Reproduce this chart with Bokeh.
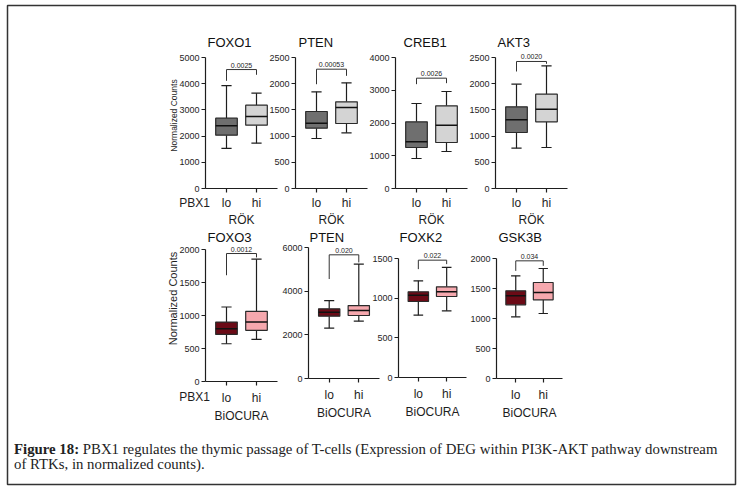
from bokeh.plotting import figure
from bokeh.models import Range1d, FixedTicker, Label, Div
from bokeh.layouts import row, column
from bokeh.embed import file_html
from bokeh.resources import INLINE

# ---------------- data ----------------
GENES = ["FOXO1", "PTEN", "CREB1", "AKT3", "FOXO3", "PTEN", "FOXK2", "GSK3B"]
GROUPS = ["lo", "hi"]
SOURCES = ["RÖK", "RÖK", "RÖK", "RÖK", "BiOCURA", "BiOCURA", "BiOCURA", "BiOCURA"]
Y_MAX = [5000, 2500, 4000, 2500, 2000, 6000, 1500, 2000]
Y_STEP = [1000, 500, 1000, 500, 500, 2000, 500, 500]
W_MIN = [[1530, 1730], [954, 1062], [916, 1130], [770, 782],
         [572, 638], [2308, 2627], [786, 840], [1028, 1083]]
Q1 = [[2036, 2417], [1151, 1240], [1252, 1405], [1069, 1272],
      [714, 775], [2855, 2885], [958, 1021], [1228, 1311]]
MED = [[2392, 2748], [1247, 1546], [1425, 1934], [1310, 1514],
       [800, 901], [3037, 3113], [1038, 1080], [1378, 1433]]
Q3 = [[2684, 3181], [1469, 1654], [2036, 2524], [1558, 1800],
      [901, 1063], [3190, 3341], [1080, 1143], [1461, 1600]]
W_MAX = [[3930, 3639], [1845, 2017], [2595, 2962], [1991, 2341],
         [1129, 1853], [3569, 5240], [1218, 1387], [1711, 1833]]
P_TEXT = ["0.0025", "0.00053", "0.0026", "0.0020", "0.0012", "0.020", "0.022", "0.034"]
BR_TOP = [4540, 2277, 3369, 2424, 1939, 5665, 1479, 1961]
BR_LEG = [[4110, 4340], [1990, 2150], [3186, 3216], [2233, 2380],
          [1610, 1880], [4556, 5316], [1366, 1429], [1794, 1878]]
Y_LABEL = "Normalized Counts"
GROUP_LABEL = "PBX1"
CAPTION_LABEL = "Figure 18:"
CAPTION_LINES = ["PBX1 regulates the thymic passage of T-cells (Expression of DEG within PI3K-AKT pathway downstream",
                 "of RTKs, in normalized counts)."]

# ---------------- layout / style (pixels) ----------------
PAGE_W, PAGE_H = 740, 490
BOX_L, BOX_T, BOX_R, BOX_B = 7, 5, 735, 484          # outer frame
ROW_TOP = [0, 226]
FRAME_EXT_TOP = [45, 236]                              # plotting area incl. room for p-values
ROW_BOTTOM = [248, 441]
CAPTION_TOP = 428
FRAME_LEFT = [205, 295, 395, 495, 205, 308, 398, 496]
FRAME_RIGHT = [277, 367, 467, 567, 277, 379, 466, 562]
AXIS_TOP = [57, 57, 57, 57, 249, 247, 258, 258]       # pixel of the top tick
FRAME_BOTTOM = [188, 188, 188, 188, 381, 378, 377, 378]
TITLE_Y = [42, 237]
TITLE_DX = [2, 3, 8, 2, 2, 1, 1, 2]
YLAB_POS = [(173, 115, "8.5px"), (172, 298, "11px")]
GROUPLAB_POS = [(194, 202), (194, 396)]
XTICK_STANDOFF = [3, 5]
XLAB_STANDOFF = [0, 1]
FILLS = [["#6f6f6f", "#d4d4d4"], ["#6b0a16", "#f6a8ae"]]
SANS = "Liberation Sans"
INK = "#1e1e1e"
BOX_W = 0.72
CAP_W = 0.34
INNER_BORDER = 45

# ---------------- background canvas: outer frame and free texts ----------------
bg = figure(frame_width=BOX_R - BOX_L, frame_height=BOX_B - BOX_T,
            min_border_left=BOX_L, min_border_top=BOX_T,
            min_border_right=PAGE_W - BOX_R, min_border_bottom=PAGE_H - BOX_B,
            x_range=Range1d(0, 1), y_range=Range1d(0, 1),
            x_axis_location=None, y_axis_location=None,
            toolbar_location=None, output_backend="svg",
            outline_line_color="#333333", outline_line_width=1.5,
            background_fill_color="white", border_fill_color="white")
bg.grid.visible = False


def bg_label(x, y, text, **kw):
    bg.add_layout(Label(x=x - BOX_L, y=BOX_B - y, x_units="screen", y_units="screen",
                        text=text, **kw))


for k in range(8):
    ri = 0 if k < 4 else 1
    bg_label(FRAME_LEFT[k] + TITLE_DX[k], TITLE_Y[ri], GENES[k], text_align="left",
             text_baseline="middle", text_font=SANS, text_font_size="13px",
             text_color="#111111")
for ri in range(2):
    yx, yy, ys = YLAB_POS[ri]
    bg_label(yx, yy, Y_LABEL, angle=90, angle_units="deg", text_align="center",
             text_baseline="middle", text_font=SANS, text_font_size=ys, text_color=INK)
    gx, gy = GROUPLAB_POS[ri]
    bg_label(gx, gy, GROUP_LABEL, text_align="center", text_baseline="middle",
             text_font=SANS, text_font_size="12px", text_color=INK)

# ---------------- panels ----------------
figs = [[], []]
prev_right = None
for k in range(8):
    ri = 0 if k < 4 else 1
    first = (k % 4 == 0)
    last = (k % 4 == 3)
    fl, fr, fb = FRAME_LEFT[k], FRAME_RIGHT[k], FRAME_BOTTOM[k]
    ft = FRAME_EXT_TOP[ri]
    fw, fh = fr - fl, fb - ft
    bl = fl if first else INNER_BORDER
    br = PAGE_W - fr if last else 4
    bt = ft - ROW_TOP[ri]
    bb = ROW_BOTTOM[ri] - fb
    y_end = Y_MAX[k] * (fb - ft) / (fb - AXIS_TOP[k])

    pos = [i + 1 for i in range(len(GROUPS))]
    p = figure(frame_width=fw, frame_height=fh,
               min_border_left=bl, min_border_right=br,
               min_border_top=bt, min_border_bottom=bb,
               x_range=Range1d(0.3, len(GROUPS) + 0.7),
               y_range=Range1d(0, y_end),
               toolbar_location=None, output_backend="svg",
               background_fill_color=None, border_fill_color=None,
               outline_line_color=None)
    if not first:
        p.margin = (0, 0, 0, (fl - bl) - prev_right)
    prev_right = fr + br

    p.xgrid.visible = False
    p.ygrid.visible = False

    for ax in (p.xaxis[0], p.yaxis[0]):
        ax.axis_line_color = INK
        ax.axis_line_width = 1.2
        ax.major_tick_line_color = INK
        ax.major_tick_line_width = 1.2
        ax.major_tick_in = 0
        ax.major_tick_out = 4
        ax.minor_tick_line_color = None
        ax.major_label_text_color = INK
    p.xaxis.ticker = FixedTicker(ticks=pos)
    p.xaxis.major_label_overrides = {x: g for x, g in zip(pos, GROUPS)}
    p.xaxis.major_label_text_font = SANS
    p.xaxis.major_label_text_font_size = "12px"
    p.xaxis.major_label_standoff = XTICK_STANDOFF[ri]
    p.xaxis.axis_label = SOURCES[k]
    p.xaxis.axis_label_text_font = SANS
    p.xaxis.axis_label_text_font_size = "12px"
    p.xaxis.axis_label_text_font_style = "normal"
    p.xaxis.axis_label_text_color = INK
    p.xaxis.axis_label_standoff = XLAB_STANDOFF[ri]
    p.yaxis.bounds = (0, Y_MAX[k])
    p.yaxis.ticker = FixedTicker(ticks=list(range(0, Y_MAX[k] + 1, Y_STEP[k])))
    p.yaxis.major_label_text_font = SANS
    p.yaxis.major_label_text_font_size = "9px"
    p.yaxis.major_label_standoff = 2

    fills = FILLS[ri]
    p.segment(x0=pos, x1=pos, y0=Q3[k], y1=W_MAX[k], line_color=INK, line_width=1.2)
    p.segment(x0=pos, x1=pos, y0=Q1[k], y1=W_MIN[k], line_color=INK, line_width=1.2)
    p.segment(x0=[x - CAP_W / 2 for x in pos], x1=[x + CAP_W / 2 for x in pos],
              y0=W_MAX[k], y1=W_MAX[k], line_color=INK, line_width=1.2)
    p.segment(x0=[x - CAP_W / 2 for x in pos], x1=[x + CAP_W / 2 for x in pos],
              y0=W_MIN[k], y1=W_MIN[k], line_color=INK, line_width=1.2)
    p.vbar(x=pos, width=BOX_W, bottom=Q1[k], top=Q3[k], fill_color=fills,
           line_color="#2a2a2a", line_width=1.2)
    p.segment(x0=[x - BOX_W / 2 for x in pos], x1=[x + BOX_W / 2 for x in pos],
              y0=MED[k], y1=MED[k], line_color="#111111", line_width=1.5)

    p.segment(x0=[pos[0], pos[0], pos[1]], x1=[pos[1], pos[0], pos[1]],
              y0=[BR_TOP[k], BR_TOP[k], BR_TOP[k]],
              y1=[BR_TOP[k], BR_LEG[k][0], BR_LEG[k][1]],
              line_color="#333333", line_width=1)
    p.add_layout(Label(x=sum(pos) / len(pos), y=BR_TOP[k], text=P_TEXT[k],
                       text_align="center", text_baseline="bottom", y_offset=2,
                       text_font=SANS, text_font_size="7px", text_color=INK))
    figs[ri].append(p)

row1 = row(*figs[0])
row1.margin = (ROW_TOP[0] - PAGE_H, 0, 0, 0)
row2 = row(*figs[1])
row2.margin = (ROW_TOP[1] - ROW_BOTTOM[0], 0, 0, 0)

caption = Div(
    text=('<div style="font-family: \'Liberation Serif\', serif; font-size: 14.8px; '
          'line-height: 15px; color: #222; margin: 14px 0 0 14px; white-space: nowrap;">'
          f'<b>{CAPTION_LABEL}</b> {CAPTION_LINES[0]}<br>{CAPTION_LINES[1]}</div>'),
    width=PAGE_W, height=PAGE_H - CAPTION_TOP)
caption.margin = (CAPTION_TOP - ROW_BOTTOM[1], 0, 0, 0)

root = column(bg, row1, row2, caption)

open("out.html", "w").write(file_html(root, INLINE))
